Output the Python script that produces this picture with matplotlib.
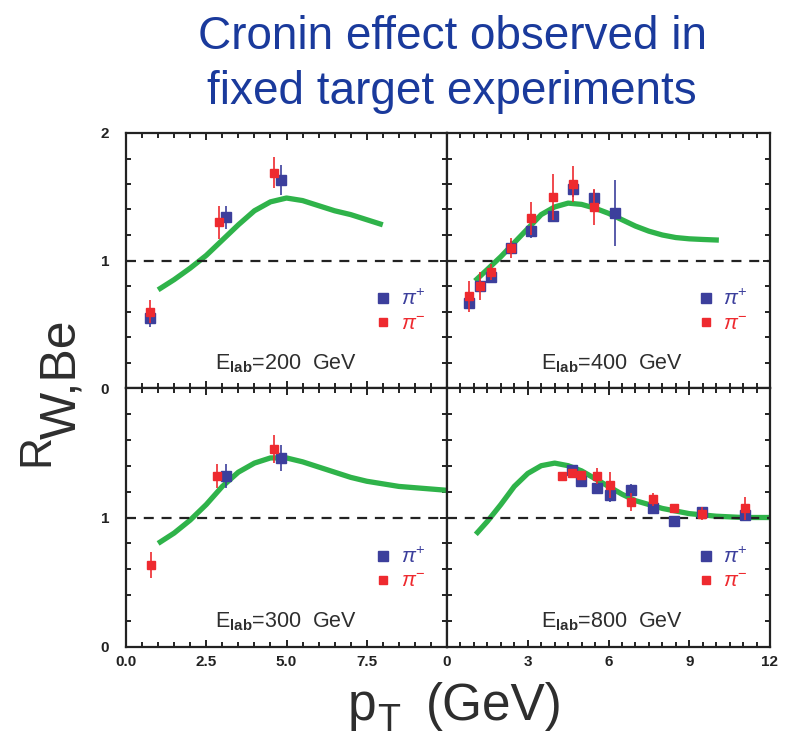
import matplotlib
matplotlib.use('Agg')
import matplotlib.pyplot as plt
from matplotlib.ticker import MultipleLocator, NullFormatter
from matplotlib.lines import Line2D

plt.rcParams['font.family'] = ['Liberation Sans', 'DejaVu Sans']
plt.rcParams['mathtext.fontset'] = 'custom'
plt.rcParams['mathtext.rm'] = 'Liberation Sans'
plt.rcParams['mathtext.it'] = 'Liberation Sans:italic'
plt.rcParams['mathtext.bf'] = 'Liberation Sans:bold'

# ---------------- data ----------------
energies = [200, 400, 300, 800]

# E_lab = 200 GeV
pip200_x = [0.75, 3.12, 4.83]
pip200_y = [0.55, 1.34, 1.63]
pip200_e = [0.07, 0.09, 0.12]
pim200_x = [0.75, 2.90, 4.61]
pim200_y = [0.60, 1.30, 1.69]
pim200_e = [0.09, 0.13, 0.12]
fit200_x = [1.0, 1.5, 2.0, 2.5, 3.0, 3.5, 4.0, 4.5, 5.0, 5.5, 6.0, 6.5, 7.0, 7.5, 8.0]
fit200_y = [0.77, 0.85, 0.94, 1.04, 1.16, 1.28, 1.39, 1.46, 1.49, 1.47, 1.43, 1.39, 1.36, 1.32, 1.28]

# E_lab = 400 GeV
pip400_x = [0.82, 1.23, 1.62, 2.38, 3.13, 3.92, 4.67, 5.45, 6.23]
pip400_y = [0.67, 0.80, 0.87, 1.10, 1.23, 1.35, 1.56, 1.49, 1.37]
pip400_e = [0.05, 0.05, 0.04, 0.05, 0.05, 0.05, 0.06, 0.06, 0.26]
pim400_x = [0.82, 1.23, 1.62, 2.38, 3.13, 3.92, 4.67, 5.45]
pim400_y = [0.72, 0.80, 0.91, 1.10, 1.33, 1.50, 1.60, 1.42]
pim400_e = [0.12, 0.11, 0.06, 0.08, 0.13, 0.18, 0.14, 0.14]
fit400_x = [1.04, 1.5, 2.0, 2.5, 3.0, 3.5, 4.0, 4.5, 5.0, 5.5, 6.0, 6.5, 7.0, 7.5, 8.0, 8.5, 9.0, 9.5, 10.1]
fit400_y = [0.84, 0.93, 1.03, 1.14, 1.25, 1.36, 1.42, 1.45, 1.44, 1.41, 1.37, 1.32, 1.27, 1.23, 1.20, 1.18, 1.17, 1.165, 1.16]

# E_lab = 300 GeV
pip300_x = [3.12, 4.84]
pip300_y = [1.32, 1.46]
pip300_e = [0.09, 0.10]
pim300_x = [0.77, 2.85, 4.61]
pim300_y = [0.63, 1.32, 1.53]
pim300_e = [0.10, 0.09, 0.11]
fit300_x = [1.0, 1.5, 2.0, 2.5, 3.0, 3.5, 4.0, 4.5, 5.0, 5.5, 6.0, 6.5, 7.0, 7.5, 8.0, 8.5, 9.0, 9.5, 10.0]
fit300_y = [0.80, 0.88, 0.98, 1.10, 1.24, 1.35, 1.42, 1.46, 1.46, 1.43, 1.39, 1.35, 1.31, 1.28, 1.26, 1.24, 1.23, 1.22, 1.21]

# E_lab = 800 GeV
pip800_x = [4.66, 4.97, 5.56, 6.06, 6.83, 7.67, 8.45, 9.47, 11.08]
pip800_y = [1.37, 1.28, 1.23, 1.17, 1.21, 1.07, 0.97, 1.04, 1.02]
pip800_e = [0.03, 0.03, 0.04, 0.05, 0.05, 0.04, 0.03, 0.04, 0.05]
pim800_x = [4.26, 4.66, 4.97, 5.56, 6.06, 6.83, 7.67, 8.45, 9.47, 11.08]
pim800_y = [1.32, 1.34, 1.33, 1.32, 1.25, 1.12, 1.14, 1.07, 1.03, 1.07]
pim800_e = [0.02, 0.03, 0.03, 0.06, 0.10, 0.07, 0.05, 0.03, 0.05, 0.09]
fit800_x = [1.07, 1.5, 2.0, 2.5, 3.0, 3.5, 4.0, 4.5, 5.0, 5.5, 6.0, 6.5, 7.0, 7.5, 8.0, 8.5, 9.0, 9.5, 10.0, 11.0, 12.0]
fit800_y = [0.87, 0.97, 1.10, 1.24, 1.34, 1.40, 1.42, 1.40, 1.36, 1.30, 1.24, 1.18, 1.13, 1.10, 1.07, 1.05, 1.03, 1.02, 1.01, 1.00, 1.00]

left_xticks = [0.0, 2.5, 5.0, 7.5]
left_xticklabels = ['0.0', '2.5', '5.0', '7.5']
right_xticks = [0, 3, 6, 9, 12]
right_xticklabels = ['0', '3', '6', '9', '12']

# ---------------- style ----------------
BLUE = '#3c3f9c'
RED = '#ee2a2f'
GREEN = '#2fb34a'
DARK = '#222222'
TXT = '#2e2e2e'

fig = plt.figure(figsize=(7.91, 7.40), dpi=100)
W, H = 791, 740
L, M, R = 126 / W, 447 / W, 770 / W
T, C, B = 1 - 133 / H, 1 - 388 / H, 1 - 647 / H

ax200 = fig.add_axes([L, C, M - L, T - C])
ax400 = fig.add_axes([M, C, R - M, T - C])
ax300 = fig.add_axes([L, B, M - L, C - B])
ax800 = fig.add_axes([M, B, R - M, C - B])

panels = [
    (ax200, 200, pip200_x, pip200_y, pip200_e, pim200_x, pim200_y, pim200_e, fit200_x, fit200_y, 'left', 'top'),
    (ax400, 400, pip400_x, pip400_y, pip400_e, pim400_x, pim400_y, pim400_e, fit400_x, fit400_y, 'right', 'top'),
    (ax300, 300, pip300_x, pip300_y, pip300_e, pim300_x, pim300_y, pim300_e, fit300_x, fit300_y, 'left', 'bottom'),
    (ax800, 800, pip800_x, pip800_y, pip800_e, pim800_x, pim800_y, pim800_e, fit800_x, fit800_y, 'right', 'bottom'),
]

for (ax, E, bx, by, be, rx, ry, re, fx, fy, side, row) in panels:
    ax.plot(fx, fy, color=GREEN, lw=3.8, solid_capstyle='butt', zorder=2)
    ax.axhline(1.0, color=DARK, lw=1.6, ls=(0, (4.5, 3.5)), zorder=3)
    ax.errorbar(bx, by, yerr=be, fmt='s', color=BLUE, ms=6.5, mec=BLUE,
                elinewidth=1.2, capsize=0, zorder=4)
    ax.errorbar(rx, ry, yerr=re, fmt='s', color=RED, ms=5.2, mec=RED,
                elinewidth=1.2, capsize=0, zorder=5)

    if side == 'left':
        ax.set_xlim(0, 10)
        ax.xaxis.set_major_locator(MultipleLocator(2.5))
        ax.xaxis.set_minor_locator(MultipleLocator(0.5))
        ax.set_yticks([0, 1, 2])
        ax.set_yticklabels(['0', '1', '2'] if row == 'top' else ['0', '1', ''])
    else:
        ax.set_xlim(0, 12)
        ax.xaxis.set_major_locator(MultipleLocator(3))
        ax.xaxis.set_minor_locator(MultipleLocator(0.5))
        ax.set_yticks([0, 1, 2])
        ax.yaxis.set_major_formatter(NullFormatter())
    ax.set_ylim(0, 2)
    ax.yaxis.set_minor_locator(MultipleLocator(0.2))

    if row == 'bottom':
        if side == 'left':
            ax.set_xticks(left_xticks)
            ax.set_xticklabels(left_xticklabels)
        else:
            ax.set_xticks(right_xticks)
            ax.set_xticklabels(right_xticklabels)
    else:
        ax.xaxis.set_major_formatter(NullFormatter())

    ax.tick_params(which='both', direction='in', top=True, right=True,
                   color=DARK, width=1.4)
    ax.tick_params(which='major', length=5, labelsize=11, labelcolor=DARK)
    ax.tick_params(axis='x', which='major', pad=6)
    ax.tick_params(axis='y', which='major', pad=12)
    ax.tick_params(which='minor', length=3.5)
    for lab in ax.get_xticklabels() + ax.get_yticklabels():
        lab.set_fontweight('bold')
    for sp in ax.spines.values():
        sp.set_linewidth(1.6)
        sp.set_color(DARK)

    ax.text(0.5 if side == 'left' else 0.51, 0.074,
            r'E$_{\mathbf{lab}}$=%d  GeV' % E, transform=ax.transAxes,
            ha='center', va='baseline', fontsize=15.5, color=TXT)

    handles = [Line2D([], [], ls='none', marker='s', color=BLUE, ms=6.5),
               Line2D([], [], ls='none', marker='s', color=RED, ms=5.2)]
    ax.legend(handles, [r'$\mathit{\pi}^{+}$', r'$\mathit{\pi}^{-}$'],
              loc='center left', bbox_to_anchor=(0.778, 0.30), frameon=False,
              handlelength=0.7, handletextpad=0.5, labelspacing=0.25,
              borderpad=0, borderaxespad=0, fontsize=15,
              labelcolor=[BLUE, RED])

# titles
TITLE_BLUE = '#1a3a9c'
fig.text(452 / W, 1 - 49 / H, 'Cronin effect observed in', ha='center', va='baseline',
         fontsize=33, color=TITLE_BLUE)
fig.text(452 / W, 1 - 104 / H, 'fixed target experiments', ha='center', va='baseline',
         fontsize=33, color=TITLE_BLUE)

# axis labels
fig.text(348 / W, 1 - 720 / H, 'p', ha='left', va='baseline', fontsize=37, color=TXT)
fig.text(377 / W, 1 - 739 / H, 'T', ha='left', va='bottom', fontsize=27, color=TXT)
fig.text(426 / W, 1 - 720 / H, '(GeV)', ha='left', va='baseline', fontsize=37, color=TXT)

fig.text(48 / W, 1 - 466 / H, 'R', rotation=90, rotation_mode='anchor',
         ha='left', va='baseline', fontsize=32, color=TXT)
fig.text(75 / W, 1 - 439 / H, 'W,Be', rotation=90, rotation_mode='anchor',
         ha='left', va='baseline', fontsize=36, color=TXT)

fig.savefig('out.png', dpi=100)
